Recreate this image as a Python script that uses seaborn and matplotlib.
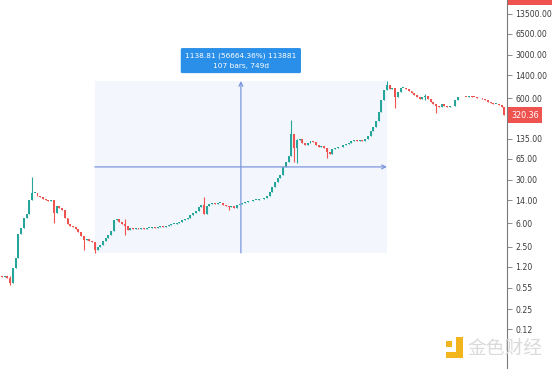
import numpy as np
import pandas as pd
import matplotlib
matplotlib.use("Agg")
import matplotlib.pyplot as plt
import seaborn as sns
from matplotlib.patches import Rectangle
from matplotlib.ticker import NullLocator, FixedLocator, FixedFormatter

# ---------------- data ----------------
first_open = 0.85
closes = [
    0.82, 0.85, 0.79, 0.66, 1.15, 1.66, 4.02, 5.01, 7.26, 8.41,
    14.1, 18.2, 18.5, 16.3, 15.7, 14.6, 14.1, 13.6, 14.1, 8.72,
    11.3, 10.5, 9.74, 7.26, 5.81, 5.40, 5.20, 4.83, 4.33, 3.73,
    3.22, 3.34, 3.10, 2.99, 2.23, 2.49, 2.68, 3.10, 3.47, 3.87,
    4.49, 6.74, 6.99, 6.26, 5.81, 5.40, 4.66, 5.01, 4.83, 5.01,
    4.83, 5.01, 4.83, 5.01, 5.05, 5.20, 5.01, 5.20, 5.40, 5.20,
    5.40, 5.60, 5.81, 5.85, 6.03, 6.26, 6.74, 6.99, 7.26, 8.10,
    8.72, 9.39, 10.9, 11.7, 8.41, 11.3, 12.2, 12.6, 12.2, 12.6,
    12.7, 11.7, 11.3, 10.9, 11.3, 10.5, 11.7, 12.2, 12.6, 13.1,
    13.6, 13.5, 14.1, 14.2, 14.6, 14.5, 15.2, 16.3, 18.9, 22.8,
    27.4, 31.7, 35.5, 47.6, 57.3, 71.5, 161, 96, 129, 134,
    115.5, 107, 115.5, 124, 120, 107, 99.6, 103, 96, 82.8,
    77, 92.5, 96, 99.6, 99, 107, 111, 115.5, 124, 129,
    124, 129, 124, 134, 150, 180, 208, 260, 362, 565,
    817, 982, 847, 879, 630, 758, 879, 885, 847, 787,
    731, 679, 630, 586, 630, 654, 586, 524, 487, 452,
    436, 487, 452, 436, 452, 445, 565, 630, 625, 635,
    630, 654, 630, 628, 608, 600, 586, 565, 524, 505,
    487, 490, 469, 436, 320.36,
]
# bars with visible long wicks: index, high, low
wick_idx = [3, 11, 19, 30, 34, 45, 74, 83, 106, 107, 108, 119, 141, 144, 155, 159]
wick_high = [0.85, 33.0, 14.1, 3.73, 2.99, 6.99, 15.7, 11.3, 270, 161, 134, 96, 1138.81, 879, 700, 487]
wick_low = [0.61, 14.1, 6.03, 2.23, 2.006, 3.87, 8.41, 9.74, 71.5, 57.3, 55.0, 66.4, 817, 420, 565, 349]

y_ticks = [13500, 6500, 3000, 1400, 600, 275, 135, 65, 30, 14, 6, 2.5, 1.2, 0.55, 0.25, 0.12]

measure_start, measure_end = 34, 141
measure_low, measure_high = 2.006, 1138.81
tooltip_lines = ["1138.81 (56664.36%) 113881", "107 bars, 749d"]
last_price = 320.36
top_label = "16440.00"
watermark = "金色财经"

# ---------------- build OHLC ----------------
n = len(closes)
opens = [first_open] + closes[:-1]
df = pd.DataFrame({"idx": np.arange(n), "open": opens, "close": closes})
df["high"] = df[["open", "close"]].max(axis=1)
df["low"] = df[["open", "close"]].min(axis=1)
for i, h, l in zip(wick_idx, wick_high, wick_low):
    df.loc[i, "high"] = max(df.loc[i, "high"], h)
    df.loc[i, "low"] = min(df.loc[i, "low"], l)
df["up"] = df["close"] >= df["open"]

GREEN = "#26a69a"
RED = "#ef5350"

sns.set_theme(style="white")
plt.rcParams["font.family"] = ["DejaVu Sans"]

fig = plt.figure(figsize=(5.54, 3.69), dpi=100)
ax = fig.add_axes([0, 0, 507 / 554, 1])
ax.set_yscale("log")
ax.set_xlim(-0.73, 184.98)
ax.set_ylim(0.0276, 22600)

# measurement box
ax.add_patch(Rectangle((measure_start, measure_low), measure_end - measure_start,
                       measure_high - measure_low, facecolor="#f0f6fd", edgecolor="none",
                       alpha=0.8, zorder=0))

colors = np.where(df["up"], GREEN, RED)
ax.vlines(df["idx"], df["low"], df["high"], colors=colors, linewidth=0.8, zorder=2)
body_bottom = df[["open", "close"]].min(axis=1)
body_top = np.maximum(df[["open", "close"]].max(axis=1), body_bottom * 1.025)
ax.bar(df["idx"], body_top - body_bottom, bottom=body_bottom, width=0.72,
       color=colors, edgecolor="none", zorder=3)

# measurement crosshair arrows
mid_x = (measure_start + measure_end) / 2
mid_y = np.sqrt(measure_low * measure_high)
line_col = "#7b96dc"
ax.annotate("", xy=(mid_x, measure_high), xytext=(mid_x, measure_low),
            arrowprops=dict(arrowstyle="->", color=line_col, lw=0.9,
                            shrinkA=0, shrinkB=0, mutation_scale=7), zorder=4)
ax.annotate("", xy=(measure_end, mid_y), xytext=(measure_start, mid_y),
            arrowprops=dict(arrowstyle="->", color=line_col, lw=0.9,
                            shrinkA=0, shrinkB=0, mutation_scale=7), zorder=4)

# tooltip
ax.annotate("\n".join(tooltip_lines), xy=(mid_x, measure_high), xytext=(0, 14.5),
            textcoords="offset points", ha="center", va="center", color="white",
            fontsize=5.3, linespacing=1.65,
            bbox=dict(boxstyle="round,pad=0.6,rounding_size=0.2", facecolor="#2a8fe8",
                      edgecolor="none"), zorder=6)

# axes styling
for s in ["top", "left", "bottom"]:
    ax.spines[s].set_visible(False)
ax.spines["right"].set_color("#7a7a7a")
ax.spines["right"].set_linewidth(0.8)
ax.set_xticks([])
ax.yaxis.tick_right()
ax.yaxis.set_major_locator(FixedLocator(y_ticks))
ax.yaxis.set_major_formatter(FixedFormatter([f"{v:.2f}" for v in y_ticks]))
ax.yaxis.set_minor_locator(NullLocator())
ax.tick_params(axis="y", direction="out", length=3.5, width=0.6, color="#7a7a7a",
               labelsize=5.6, labelcolor="#3a3a3a", pad=2.5, right=True, left=False)
ax.grid(False)

# last price label
ax.annotate(f"{last_price:.2f}", xy=(1.0, last_price), xycoords=("axes fraction", "data"),
            xytext=(3, 0), textcoords="offset points", ha="left", va="center",
            color="white", fontsize=5.8, annotation_clip=False,
            bbox=dict(boxstyle="square,pad=0.45", facecolor=RED, edgecolor="none"), zorder=10)
# top cut-off label
ax.annotate(top_label, xy=(1.0, 1.0), xycoords="axes fraction", xytext=(3, 2),
            textcoords="offset points", ha="left", va="center", color="white",
            fontsize=5.8, annotation_clip=False,
            bbox=dict(boxstyle="square,pad=0.45", facecolor=RED, edgecolor="none"), zorder=10)

# watermark
W, H = 554, 369
def fig_rect(x0, y0, x1, y1, color):
    fig.patches.append(Rectangle((x0 / W, 1 - y1 / H), (x1 - x0) / W, (y1 - y0) / H,
                                 transform=fig.transFigure, facecolor=color,
                                 edgecolor="none", zorder=20))
fig_rect(446, 341, 452, 347, "#f2b51d")
fig_rect(456, 337, 463, 358, "#f2b51d")
fig_rect(446, 352, 463, 358, "#f2b51d")
fig.text(467 / W, 1 - 348 / H, watermark, family=["Noto Sans CJK SC", "DejaVu Sans"],
         fontsize=13.5, color="#dadada", ha="left", va="center", zorder=20)

fig.savefig("out.png", dpi=100)
